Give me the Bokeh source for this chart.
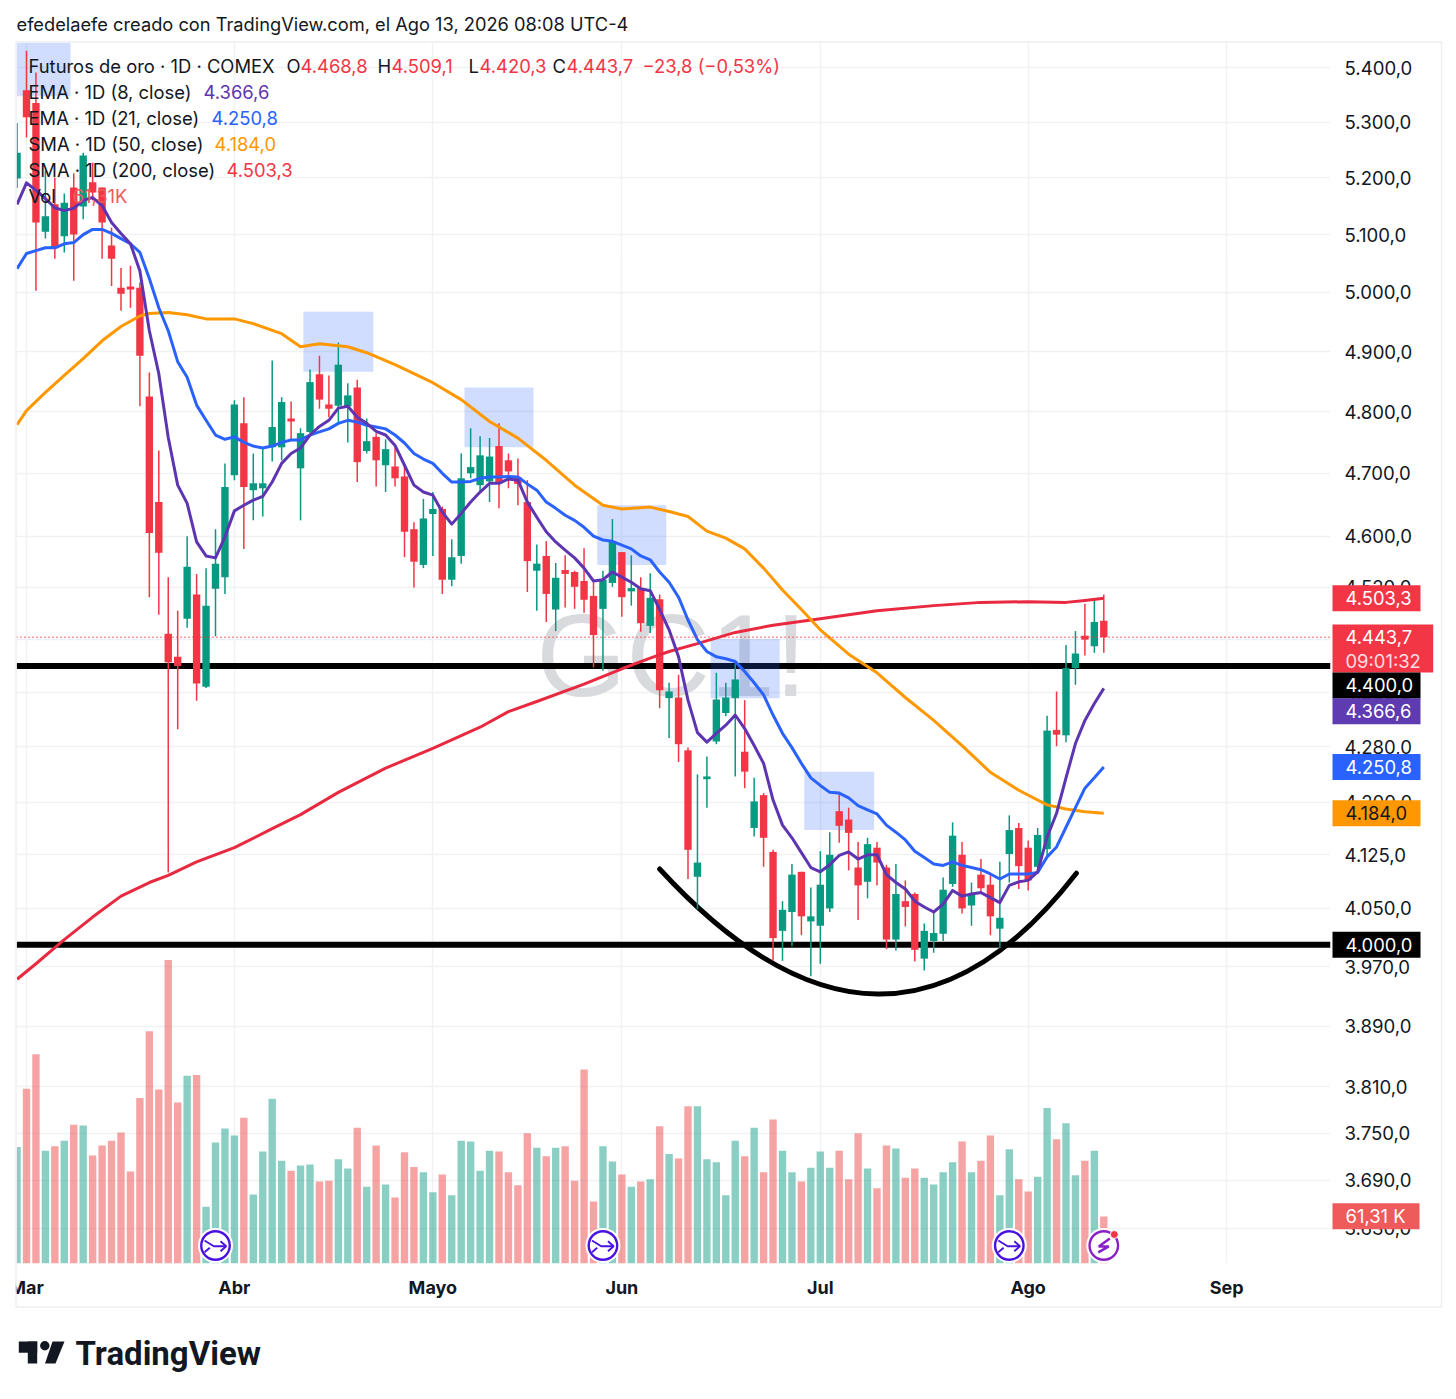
import math
import numpy as np
from bokeh.plotting import figure
from bokeh.embed import file_html
from bokeh.resources import INLINE
from bokeh.core.properties import value
from bokeh.models import Range1d, LinearScale, FixedTicker, ColumnDataSource

# ---------- data ----------
first_bar = -1
open_vals = [5199,5358,5335,5105,5153,5097,5183,5149,5192,5183,5081,5008,5010,5008,
 4825,4654,4449,4414,4472,4509,4369,4518,4536,4697,4781,4673,4676,4742,4742,4789,4708,4767,4862,4812,4810,4809,4840,4736,4759,4713,4711,
 4695,4611,4555,4635,4643,4532,4569,4700,4681,4687,4744,4721,4694,4654,4546,4569,4486,4547,4544,4530,4507,4487,4527,4575,4514,4519,4461,4502,
 4352,4353,4275,4094,4233,4288,4330,4352,4273,4163,4210,4129,4019,4045,4101,4032,4026,4050,4187,4175,4107,4087,4135,4107,4007,4060,4070,3981,4005,4015,4084,4125,4054,4097,4083,4022,4126,4163,4135,4108,4133,4305,4297,4397,4446,4430,4468.8]
high_vals = [5298,5431,5391,5213,5200,5172,5208,5245,5227,5183,5112,5042,5046,5017,
 4865,4737,4536,4484,4600,4541,4550,4611,4716,4819,4824,4732,4742,4885,4824,4817,4773,4870,4893,4860,4915,4847,4853,4789,4765,4755,4742,
 4711,4622,4659,4670,4647,4595,4732,4773,4760,4757,4781,4732,4724,4689,4587,4592,4558,4570,4546,4581,4528,4546,4627,4575,4570,4536,4542,4509,
 4375,4387,4279,4240,4266,4390,4375,4404,4349,4235,4213,4132,4060,4112,4101,4079,4130,4157,4214,4192,4143,4149,4143,4111,4112,4089,4072,4029,4045,4093,4171,4143,4086,4119,4097,4115,4181,4170,4145,4163,4326,4362,4432,4453,4495,4502,4509.1]
low_vals = [5182,5272,5003,5093,5058,5069,5020,5127,5160,5058,5011,4969,4974,4809,
 4505,4478,4100,4306,4458,4348,4367,4445,4510,4689,4580,4625,4631,4719,4721,4754,4625,4765,4805,4791,4783,4750,4686,4732,4679,4670,4679,
 4567,4520,4550,4569,4510,4522,4557,4692,4670,4654,4644,4676,4649,4513,4484,4467,4453,4489,4487,4481,4398,4393,4521,4475,4492,4452,4450,4337,
 4293,4258,4091,4049,4192,4284,4325,4237,4220,4151,4108,3978,3978,3998,4013,3957,3974,4045,4142,4103,4034,4064,4082,3994,3992,4025,3977,3965,3989,4005,4080,4043,4026,4070,4013,3995,4086,4077,4075,4104,4122,4281,4287,4372,4416,4420,4420.3]
close_vals = [5245,5309,5121,5132,5076,5156,5100,5240,5174,5121,5058,4998,5005,4893,
 4605,4574,4406,4400,4552,4374,4492,4557,4678,4812,4678,4684,4684,4775,4816,4784,4765,4849,4820,4805,4878,4827,4718,4752,4721,4739,4692,
 4607,4560,4628,4643,4532,4567,4692,4710,4729,4727,4684,4703,4683,4561,4557,4510,4535,4541,4521,4501,4447,4532,4592,4505,4519,4465,4504,4364,
 4362,4284,4132,4114,4237,4350,4353,4380,4244,4201,4149,4009,4048,4097,4039,4039,4083,4125,4166,4156,4082,4140,4114,4007,4070,4052,3993,4019,4016,4076,4152,4050,4070,4078,4039,4037,4160,4109,4089,4153,4304,4298,4397,4419,4440,4467,4443.7]
volume_k = [152,228,273,147,153,160,181,180,141,154,160,171,120,216,303,227,396,210,245,246,74,158,176,167,190,90,146,215,134,121,128,129,107,108,136,124,177,100,154,103,86,
 145,126,119,93,116,89,160,159,121,147,146,119,102,170,151,140,151,153,108,253,81,153,133,116,100,107,110,179,143,137,205,205,136,132,89,160,140,177,119,188,147,119,107,
 125,146,125,147,110,170,124,98,154,150,112,124,112,103,119,132,159,119,134,167,89,149,110,94,113,203,162,183,115,134,147,61.31]
ema8 = [5153,5191,5178,5163,5147,5142,5146,5160,5165,5151,5121,5102,5084,5037,4935,4863,4758,4681,4652,4591,4569,4566,4599,4640,4649,4657,4663,4686,4716,4732,4741,4762,4776,4786,4806,4809,4791,4781,4768,4762,4745,
 4713,4681,4670,4665,4638,4619,4636,4654,4670,4684,4684,4691,4689,4654,4630,4607,4591,4578,4566,4550,4530,4532,4544,4536,4528,4518,4515,4486,4455,4414,4349,4301,4287,4300,4312,4327,4307,4282,4256,4203,4167,4149,4128,4107,4101,4111,4124,4129,4119,4125,4125,4097,4086,4077,4060,4052,4045,4056,4075,4067,4070,4072,4065,4058,4082,4087,4089,4101,4150,4184,4235,4285,4319,4344,4366.6]
ema21 = [5041,5067,5072,5077,5077,5084,5086,5100,5109,5109,5102,5093,5084,5069,5024,4974,4935,4883,4857,4811,4786,4762,4755,4759,4750,4744,4741,4744,4750,4754,4754,4762,4767,4772,4781,4786,4783,4778,4775,4772,4762,
 4749,4732,4723,4716,4700,4686,4686,4687,4692,4694,4694,4695,4694,4683,4673,4654,4644,4633,4625,4614,4600,4594,4592,4586,4580,4569,4563,4544,4528,4505,4470,4440,4422,4414,4411,4407,4392,4375,4357,4327,4300,4279,4256,4235,4224,4214,4213,4206,4195,4189,4183,4167,4157,4146,4130,4121,4112,4110,4115,4110,4107,4104,4098,4091,4098,4098,4098,4100,4122,4136,4164,4192,4220,4235,4250.8]
sma50_idx = [-1,0,2,4,6,8,10,12,13,15,17,19,22,24,27,29,31,34,36,39,43,46,49,52,55,58,61,63,66,68,70,72,74,76,78,80,82,84,87,90,93,96,99,102,105,108,110,112,114]
sma50_vals = [4779,4802,4832,4860,4888,4918,4942,4960,4964,4966,4962,4955,4955,4947,4930,4908,4913,4908,4898,4878,4848,4820,4784,4757,4721,4681,4649,4643,4646,4639,4631,4608,4597,4580,4550,4516,4486,4455,4418,4390,4353,4319,4282,4243,4217,4196,4190,4186,4184.0]
sma200_idx = [-1,1,4,7,10,13,15,18,22,26,29,33,38,43,48,51,54,59,63,66,68,71,75,79,84,90,96,101,106,110,112,114]
sma200_vals = [3953,3974,4007,4038,4067,4086,4096,4115,4135,4162,4182,4214,4249,4278,4309,4332,4347,4373,4396,4412,4422,4434,4451,4462,4472,4484,4492,4497,4498,4497,4500,4503.3]
arc_from = (67.0, 4105.0)
arc_to = (111.1, 4099.0)
arc_ctrl = (91.1, 3771.0)
box_left = [-1.06,29.3,46.35,60.4,72.4,82.3]
box_right = [4.66,36.7,53.65,67.7,79.7,89.7]
box_top = [5446,4967,4840,4649,4441,4244]
box_bottom = [5347,4866,4742,4555,4352,4160]
level_lines = [4400.0, 4000.0]
last_close = 4443.7
month_ticks = [0,22,43,63,84,106,127]
month_labels = ["Mar","Abr","Mayo","Jun","Jul","Ago","Sep"]
price_ticks = [5400,5300,5200,5100,5000,4900,4800,4700,4600,4520,4440,4360,4280,4200,4125,4050,3970,3890,3810,3750,3690,3630]
icon_idx = [20,61,104]
icon_vol = 23.5
bolt_idx = 114
tags = [("4.503,3",4503.3,"#F23645","#ffffff",1420),
        ("4.400,0",4371,"#000000","#ffffff",1420),
        ("4.366,6",4332.6,"#5E3BB0","#ffffff",1420),
        ("4.250,8",4250.8,"#2962FF","#ffffff",1420),
        ("4.184,0",4184,"#FF9800","#131722",1420),
        ("4.000,0",4000,"#000000","#ffffff",1420),
        ("61,31 K",3645,"#EF5A5A","#ffffff",1419)]

# ---------- image-pixel helpers ----------
BAR_X0, BAR_STEP = 26.0, 9.45
PX_PER_LOG = 2923.0
def ix(x_img): return (x_img - BAR_X0) / BAR_STEP
def py(y_img): return 5400.0 * math.exp(-(y_img - 67.0) / PX_PER_LOG)
def price_px(v): return 67.0 + PX_PER_LOG * math.log(5400.0 / v)

FONT = "Inter"
TXT = "#131722"

p = figure(width=1456, height=1399, x_range=Range1d(ix(16), ix(1330)), y_range=Range1d(py(1263), py(42)),
           y_axis_type="log", y_axis_location="right", toolbar_location=None, output_backend="svg",
           min_border_left=16, min_border_top=42, min_border_bottom=136, min_border_right=126,
           outline_line_color=None, background_fill_color="white")
VOL_PER_PX = 61.31 / 47.0
p.extra_y_ranges = {"vol": Range1d(0, 1221 * VOL_PER_PX)}
p.extra_y_scales = {"vol": LinearScale()}

# axes
p.yaxis.ticker = FixedTicker(ticks=price_ticks)
p.yaxis.major_label_overrides = {t: f"{t:,.1f}".replace(",", "X").replace(".", ",").replace("X", ".") for t in price_ticks}
p.yaxis.major_tick_line_color = None
p.yaxis.minor_tick_line_color = None
p.yaxis.axis_line_color = None
p.yaxis.major_label_standoff = 8
p.yaxis.major_label_text_font = FONT
p.yaxis.major_label_text_font_size = "18.6px"
p.yaxis.major_label_text_color = TXT
p.xaxis.ticker = FixedTicker(ticks=month_ticks)
p.xaxis.major_label_overrides = dict(zip(month_ticks, month_labels))
p.xaxis.major_tick_line_color = None
p.xaxis.minor_tick_line_color = None
p.xaxis.axis_line_color = None
p.xaxis.major_label_standoff = 7
p.xaxis.major_label_text_font = FONT
p.xaxis.major_label_text_font_size = "18px"
p.xaxis.major_label_text_font_style = "bold"
p.xaxis.major_label_text_color = TXT
p.grid.grid_line_color = "#f0f1f4"
p.grid.grid_line_width = 1.4

# watermark
p.text(x=[ix(671)], y=[py(655)], text=["GC1!"], text_font=value("Liberation Sans"), text_font_size="116px",
       text_color="#d9dadd", text_align="center", text_baseline="middle")

# price levels
x_all = [ix(16), ix(1330)]
for lv in level_lines:
    p.line(x_all, [lv, lv], line_color="#000000", line_width=6)
p.quadratic(x0=[arc_from[0]], y0=[arc_from[1]], x1=[arc_to[0]], y1=[arc_to[1]], cx=[arc_ctrl[0]], cy=[arc_ctrl[1]],
            line_color="#000000", line_width=5, line_cap="round")

# rectangles
p.quad(left=box_left, right=box_right, top=box_top, bottom=box_bottom,
       fill_color="#2962FF", fill_alpha=0.22, line_color=None)

# volume
idx = list(range(first_bar, first_bar + len(close_vals)))
up = [c >= o for o, c in zip(open_vals, close_vals)]
vol_col = ["#179F89" if u else "#ED4749" for u in up]
p.vbar(x=idx, top=volume_k, bottom=0, width=0.78, fill_color=vol_col, fill_alpha=0.5, line_color=None, y_range_name="vol")

# candles
cand_col = ["#089981" if u else "#F23645" for u in up]
src = ColumnDataSource(dict(x=idx, o=open_vals, h=high_vals, l=low_vals, c=close_vals, col=cand_col,
                            t=[max(a, b) for a, b in zip(open_vals, close_vals)],
                            b=[min(a, b) for a, b in zip(open_vals, close_vals)]))
p.segment("x", "h", "x", "l", source=src, line_color="col", line_width=1.5)
p.vbar("x", width=0.78, top="t", bottom="b", source=src, fill_color="col", line_color=None)

p.line(sma200_idx, sma200_vals, line_color="#E8293F", line_width=3, line_join="round")
p.line(sma50_idx, sma50_vals, line_color="#FF9800", line_width=3, line_join="round")
p.line(idx, ema21, line_color="#2962FF", line_width=3, line_join="round")
p.line(idx, ema8, line_color="#5E35B1", line_width=3, line_join="round")
p.line(x_all, [last_close, last_close], line_color="#F23645", line_width=1.5, line_dash="1 3")

# event icons
def off_x(i, dx): return [i + d / BAR_STEP for d in dx]
def off_v(dy): return [icon_vol - d * VOL_PER_PX for d in dy]
p.scatter(icon_idx + [bolt_idx], [icon_vol] * 4, marker="circle", size=35, fill_color="white", line_color=None, y_range_name="vol")
p.scatter(icon_idx, [icon_vol] * 3, marker="circle", size=28.5, fill_color="white", line_color="#4A12E0", line_width=2.4, y_range_name="vol")
p.scatter([bolt_idx], [icon_vol], marker="circle", size=28.5, fill_color="white", line_color="#8A1FC7", line_width=2.4, y_range_name="vol")
for i in icon_idx:
    p.line(off_x(i, [-11, -1.7, 10]), off_v([-5, 0.7, 0.7]), line_color="#4A12E0", line_width=1.9, y_range_name="vol")
    p.line(off_x(i, [5, 10.7, 5]), off_v([-4.3, 0.7, 5.7]), line_color="#4A12E0", line_width=1.9, y_range_name="vol")
    p.line(off_x(i, [-11, -5.7]), off_v([6.7, 2.3]), line_color="#4A12E0", line_width=1.9, y_range_name="vol")
p.line(off_x(bolt_idx, [6, -5, 5, -5.5]), off_v([-7, 1, 1, 7]), line_color="#8A1FC7", line_width=2.6, y_range_name="vol")
p.scatter([bolt_idx + 10.5 / BAR_STEP], [icon_vol + 11 * VOL_PER_PX], marker="circle", size=8, fill_color="#F23645",
          line_color="white", line_width=1, y_range_name="vol")

# ---------- overlay figure in page pixels: header, legend, tags, logo, border ----------
o = figure(width=1456, height=1399, x_range=Range1d(0, 1456), y_range=Range1d(1399, 0),
           x_axis_location=None, y_axis_location=None, toolbar_location=None, output_backend="svg",
           min_border=0, outline_line_color=None, background_fill_color=None, border_fill_color=None)
o.grid.visible = False
o.styles = {"position": "absolute", "left": "0px", "top": "0px"}

def txt(x, y, s, color=TXT, size="18.4px", style="normal", font=FONT):
    o.text(x=[x], y=[y], text=[s], text_color=color, text_font=value(font), text_font_size=size,
           text_font_style=style, text_baseline="middle", text_align="left")

def box(l, r, t, b, fill, line=None):
    o.quad(left=[l], right=[r], top=[t], bottom=[b], fill_color=fill, fill_alpha=1 if fill else 0,
           line_color=line, line_width=1.4 if line else 0)

# frame border and clipping of first axis label
box(0, 15.2, 1264, 1330, "#ffffff")
box(15.5, 1441, 41.5, 1306.5, None, "#eceef1")

RED = "#F23645"
L1 = 65
txt(28, L1, "Futuros de oro · 1D · COMEX")
txt(286, L1, "O"); txt(300, L1, "4.468,8", RED)
txt(377, L1, "H"); txt(391, L1, "4.509,1", RED)
txt(468, L1, "L"); txt(479, L1, "4.420,3", RED)
txt(552, L1, "C"); txt(566, L1, "4.443,7", RED)
txt(642, L1, "−23,8 (−0,53%)", RED)
txt(28, 91, "EMA · 1D (8, close)");   txt(203, 91, "4.366,6", "#5E35B1")
txt(28, 117, "EMA · 1D (21, close)"); txt(211, 117, "4.250,8", "#2962FF")
txt(28, 143, "SMA · 1D (50, close)"); txt(214, 143, "4.184,0", "#FF9800")
txt(28, 169, "SMA · 1D (200, close)"); txt(226, 169, "4.503,3", RED)
txt(28, 195, "Vol"); txt(72, 195, "61,31K", "#EF5A5A")

txt(16, 23, "efedelaefe creado con TradingView.com, el Ago 13, 2026 08:08 UTC-4", size="18.25px")
txt(75, 1353, "TradingView", "#131722", size="33px", style="bold", font="Roboto")

# logo
box(18.3, 36.7, 1341, 1352.3, "#131722")
box(27.3, 36.7, 1341, 1363, "#131722")
o.patch([52, 64, 55, 44.5], [1341, 1341, 1363, 1363], fill_color="#131722", line_color=None)
o.scatter([44.3], [1345.3], marker="circle", size=9.4, fill_color="#131722", line_color=None)

# tags on the price scale
box(1332, 1432.7, 624, 672, RED)
txt(1345, 636, "4.443,7", "#ffffff")
txt(1345, 660, "09:01:32", "#ffdfe2")
for s, v, fill, fg, right in tags:
    c = price_px(v)
    box(1332, right, c - 13, c + 13, fill)
    txt(1345, c, s, fg)

open("out.html", "w").write(file_html([p, o], INLINE))
